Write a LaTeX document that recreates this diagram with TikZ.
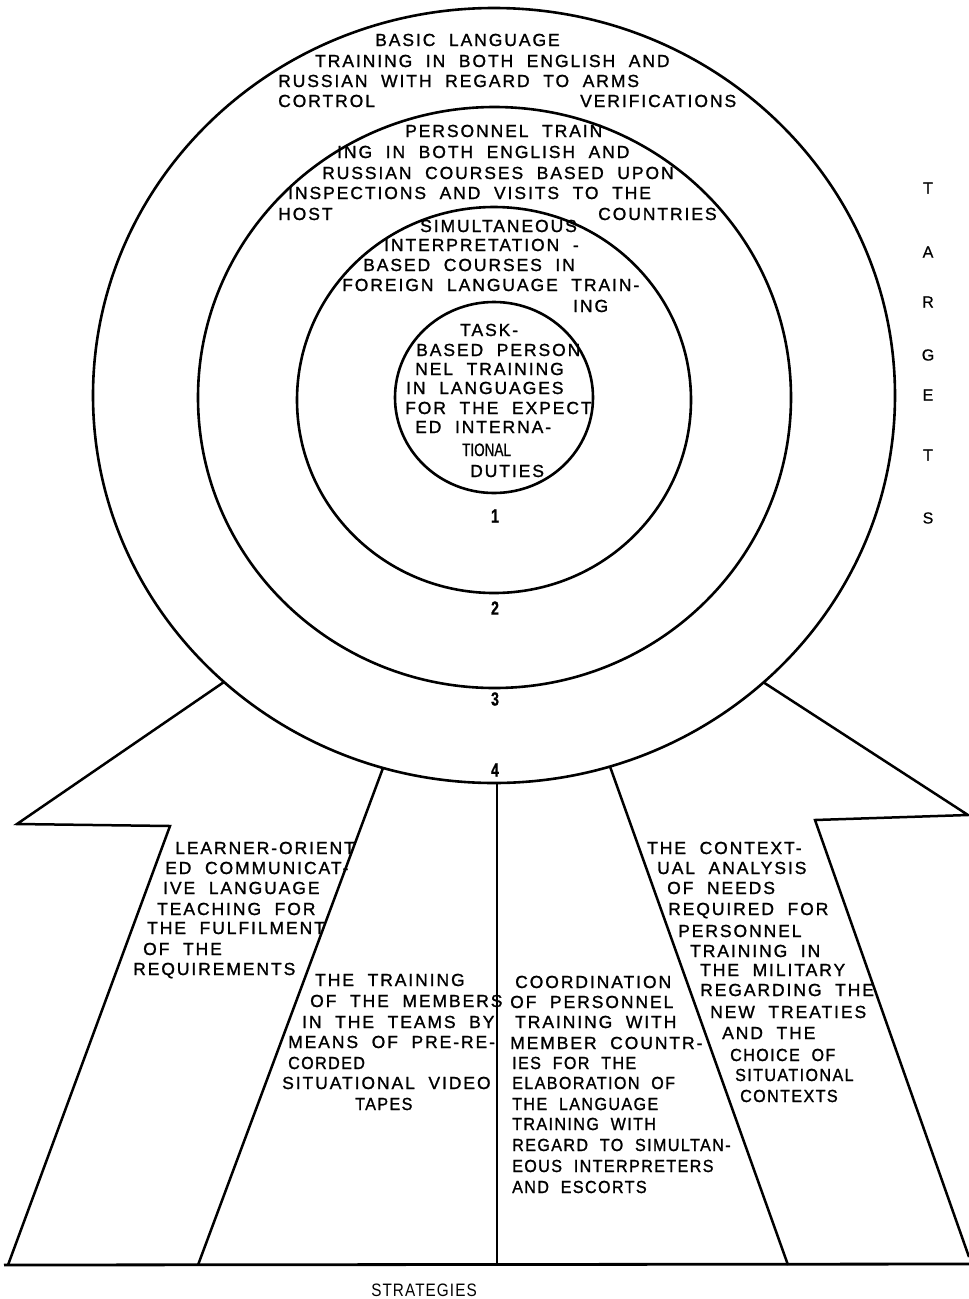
\documentclass[tikz,border=0pt]{standalone}
\usepackage{fontspec}
\setmainfont{Liberation Sans}
\newfontfamily\dfont[LetterSpace=11,WordSpace=2,FakeBold=1.2]{Liberation Sans}
\newfontfamily\cfont[LetterSpace=8,WordSpace=2,FakeStretch=0.92,FakeBold=1.2]{Liberation Sans}
\newfontfamily\nfont[FakeStretch=0.75,FakeBold=0.8]{Liberation Sans}
\newfontfamily\sfont[LetterSpace=6,FakeStretch=0.85]{Liberation Sans}
\newfontfamily\gfont[FakeBold=0.6]{Liberation Sans}
\begin{document}
\begin{tikzpicture}[x=1pt,y=-1pt,
  ring/.style={line width=2.6pt},
  rib/.style={line width=2.5pt, line join=miter},
  tx/.style={font=\dfont\fontsize{17.5}{20}\selectfont, inner sep=0pt, anchor=base west},
  txc/.style={font=\cfont\fontsize{17.5}{20}\selectfont, inner sep=0pt, anchor=base west},
  num/.style={font=\nfont\bfseries\fontsize{19}{21}\selectfont, inner sep=0pt},
  tgt/.style={font=\gfont\fontsize{16}{18}\selectfont, inner sep=0pt}]
\newcommand\txl[4]{\node[tx] (#1) at ({#2},{#3+6}) {#4};}
\newcommand\txk[4]{\node[txc] (#1) at ({#2},{#3+6}) {#4};}
\useasboundingbox (0,0) rectangle (969,1299);
\fill[white] (0,0) rectangle (969,1299);
% target rings
\draw[ring] (494,395.5) ellipse [x radius=401pt, y radius=387.5pt];
\draw[ring] (494.5,397.5) ellipse [x radius=296.5pt, y radius=290.5pt];
\draw[ring] (494,400) ellipse [x radius=197pt, y radius=193pt];
\draw[ring] (494,397.5) ellipse [x radius=99pt, y radius=95.5pt];
% ribbon coordinates
\coordinate (pL0) at (224,682);
\coordinate (pL1) at (17,824);
\coordinate (pL2) at (170,826);
\coordinate (pL3) at (8,1265);
\coordinate (pS2t) at (383,768);
\coordinate (pS2b) at (198,1265);
\coordinate (pCt) at (497,783);
\coordinate (pCb) at (497,1265);
\coordinate (pS4t) at (610,766.5);
\coordinate (pS4b) at (788,1265);
\coordinate (pR0) at (763,682);
\coordinate (pR1) at (968,815);
\coordinate (pR2) at (815,820);
\coordinate (pR3) at (969,1257);
\coordinate (bL) at (4,1265);
\coordinate (bR) at (969,1264);
\draw[rib] (pL0) -- (pL1) -- (pL2) -- (pL3);
\draw[rib] (pS2t) -- (pS2b);
\draw[rib] (pCt) -- (pCb);
\draw[rib] (pS4t) -- (pS4b);
\draw[rib] (pR0) -- (pR1) -- (pR2) -- (pR3);
\draw[line width=2.8pt] (bL) -- (bR);
% ring 4 text
\txl{a1}{375}{40}{BASIC LANGUAGE}
\txl{a2}{315}{61}{TRAINING IN BOTH ENGLISH AND}
\txl{a3}{278}{81}{RUSSIAN WITH REGARD TO ARMS}
\txl{a4}{278}{101}{CORTROL}
\txl{a5}{580}{101}{VERIFICATIONS}
% ring 3 text
\txl{b1}{405}{131}{PERSONNEL TRAIN}
\txl{b2}{337}{152}{ING IN BOTH ENGLISH AND}
\txl{b3}{322}{173}{RUSSIAN COURSES BASED UPON}
\txl{b4}{288}{193}{INSPECTIONS AND VISITS TO THE}
\txl{b5}{278}{214}{HOST}
\txl{b6}{598}{214}{COUNTRIES}
% ring 2 text
\txl{c1}{420}{226}{SIMULTANEOUS}
\txl{c2}{384}{245}{INTERPRETATION -}
\txl{c3}{363}{265}{BASED COURSES IN}
\txl{c4}{342}{285}{FOREIGN LANGUAGE TRAIN-}
\txl{c5}{573}{306}{ING}
% centre text
\txl{d1}{460}{330}{TASK-}
\txl{d2}{416}{350}{BASED PERSON}
\txl{d3}{415}{369}{NEL TRAINING}
\txl{d4}{406}{388}{IN LANGUAGES}
\txl{d5}{405}{408}{FOR THE EXPECT}
\txl{d6}{415}{427}{ED INTERNA-}
\node[font=\nfont\fontsize{18}{20}\selectfont, inner sep=0pt, anchor=base west] (d7) at (462,456) {TIONAL};
\txl{d8}{470}{471}{DUTIES}
% ring numbers
\node[num] (n1) at (495,516) {1};
\node[num] (n2) at (495,608) {2};
\node[num] (n3) at (495,699) {3};
\node[num] (n4) at (495,770) {4};
% TARGETS
\node[tgt] (t1) at (928,188) {T};
\node[tgt] (t2) at (928,252) {A};
\node[tgt] (t3) at (928,302) {R};
\node[tgt] (t4) at (928,355) {G};
\node[tgt] (t5) at (928,395) {E};
\node[tgt] (t6) at (928,455) {T};
\node[tgt] (t7) at (928,518) {S};
% strip 1
\txl{e1}{175}{848}{LEARNER-ORIENT}
\txl{e2}{165}{868}{ED COMMUNICAT-}
\txl{e3}{163}{888}{IVE LANGUAGE}
\txl{e4}{157}{909}{TEACHING FOR}
\txl{e5}{147}{928}{THE FULFILMENT}
\txl{e6}{143}{949}{OF THE}
\txl{e7}{133}{969}{REQUIREMENTS}
% strip 2
\txl{f1}{315}{980}{THE TRAINING}
\txl{f2}{310}{1001}{OF THE MEMBERS}
\txl{f3}{302}{1022}{IN THE TEAMS BY}
\txl{f4}{288}{1042}{MEANS OF PRE-RE-}
\txk{f5}{288}{1063}{CORDED}
\txl{f6}{282}{1083}{SITUATIONAL VIDEO}
\txk{f7}{355}{1104}{TAPES}
% strip 3
\txl{g1}{515}{982}{COORDINATION}
\txl{g2}{510}{1002}{OF PERSONNEL}
\txl{g3}{515}{1022}{TRAINING WITH}
\txl{g4}{510}{1043}{MEMBER COUNTR-}
\txk{g5}{512}{1063}{IES FOR THE}
\txk{g6}{512}{1083}{ELABORATION OF}
\txk{g7}{512}{1104}{THE LANGUAGE}
\txk{g8}{512}{1124}{TRAINING WITH}
\txk{g9}{512}{1145}{REGARD TO SIMULTAN-}
\txk{g10}{512}{1166}{EOUS INTERPRETERS}
\txk{g11}{512}{1187}{AND ESCORTS}
% strip 4
\txl{h1}{647}{848}{THE CONTEXT-}
\txl{h2}{657}{868}{UAL ANALYSIS}
\txl{h3}{667}{888}{OF NEEDS}
\txl{h4}{668}{909}{REQUIRED FOR}
\txl{h5}{678}{931}{PERSONNEL}
\txl{h6}{690}{951}{TRAINING IN}
\txl{h7}{700}{970}{THE MILITARY}
\txl{h8}{700}{990}{REGARDING THE}
\txl{h9}{710}{1012}{NEW TREATIES}
\txl{h10}{722}{1033}{AND THE}
\txk{h11}{730}{1055}{CHOICE OF}
\txk{h12}{735}{1075}{SITUATIONAL}
\txk{h13}{740}{1096}{CONTEXTS}
% caption
\node[font=\sfont\fontsize{18}{20}\selectfont, inner sep=0pt] (strat) at (424,1290) {STRATEGIES};
\end{tikzpicture}
\end{document}
